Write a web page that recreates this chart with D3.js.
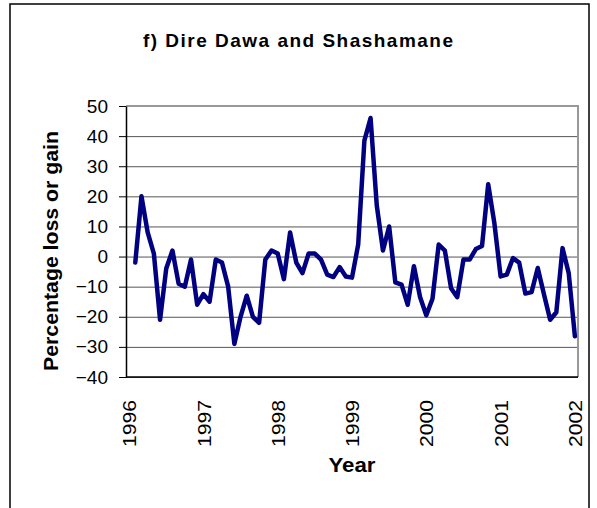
<!DOCTYPE html>
<html>
<head>
<meta charset="utf-8">
<script src="https://cdn.jsdelivr.net/npm/d3@7"></script>
<style>
body { margin: 0; background: #fff; }
text { font-family: Arial, "Liberation Sans", sans-serif; }
</style>
</head>
<body>
<svg id="chart" width="597" height="508"></svg>
<script>
// year labels sit on every 12th month, first month has no value
var yearLabels = ['1996', '1997', '1998', '1999', '2000', '2001', '2002'];
var yTicks = [-40, -30, -20, -10, 0, 10, 20, 30, 40, 50];
var change = [null,
    -2, 20, 8, 1, -21, -4, 2, -9, -10, -1, -16, -12.5,
    -15, -1, -2, -10, -29, -20, -13, -20, -22, -1, 2, 1,
    -7.5, 8, -2, -5.5, 1, 1, -1, -6, -6.8, -3.5, -6.6, -7,
    4, 38.5, 46, 17, 2, 10, -8.6, -9.3, -16, -3.2, -13.5, -19.5,
    -14, 4, 2, -10.5, -13.5, -1, -1, 2.5, 3.5, 24, 11, -6.6,
    -6, -0.5, -2, -12.3, -11.8, -3.8, -12.5, -21, -18.5, 2.8, -5.5, -26.5];

var svg = d3.select('#chart');
var pLeft = 126, pRight = 578, pTop = 106, pBottom = 377;
var fontFam = 'Arial, "Liberation Sans", sans-serif';

// outer frame
svg.append('rect')
    .attr('x', 10).attr('y', 4).attr('width', 579).attr('height', 520)
    .attr('fill', 'none').attr('stroke', '#000').attr('stroke-width', 1.5);

svg.append('text')
    .attr('x', 298).attr('y', 47)
    .attr('text-anchor', 'middle')
    .attr('font-size', 19).attr('font-weight', 'bold')
    .attr('textLength', 310).attr('lengthAdjust', 'spacing')
    .text('f) Dire Dawa and Shashamane');

var x = d3.scalePoint()
    .domain(d3.range(change.length))
    .range([pLeft, pRight])
    .padding(0.5);
var y = d3.scaleLinear().domain([-40, 50]).range([pBottom, pTop]);

// grid
svg.append('g')
    .attr('transform', 'translate(' + pLeft + ',0)')
    .call(d3.axisLeft(y).tickValues(yTicks).tickSize(-(pRight - pLeft)).tickFormat(''))
    .call(function(g) {
        g.select('.domain').remove();
        g.selectAll('line').attr('stroke', '#555').attr('stroke-width', 1);
    });

// plot area border (top / right)
svg.append('path')
    .attr('d', 'M' + pLeft + ',' + pTop + 'H' + pRight + 'V' + pBottom)
    .attr('fill', 'none').attr('stroke', '#999').attr('stroke-width', 2);

var line = d3.line()
    .defined(function(d) { return d != null; })
    .x(function(d, i) { return x(i); })
    .y(function(d) { return y(d); });

svg.append('path')
    .attr('d', line(change))
    .attr('fill', 'none')
    .attr('stroke', '#000080')
    .attr('stroke-width', 4.5)
    .attr('stroke-linejoin', 'round')
    .attr('stroke-linecap', 'round');

// y axis
svg.append('g')
    .attr('transform', 'translate(' + pLeft + ',0)')
    .call(d3.axisLeft(y).tickValues(yTicks).tickSize(7).tickSizeOuter(0).tickPadding(11))
    .call(function(g) {
        g.select('.domain').attr('stroke', '#000').attr('stroke-width', 1.5);
        g.selectAll('.tick line').attr('stroke', '#000');
        g.selectAll('text').attr('font-size', 19).attr('font-family', fontFam).attr('fill', '#000');
    });

// x axis
var xTickIdx = yearLabels.map(function(d, i) { return i * 12; });
svg.append('g')
    .attr('transform', 'translate(0,' + pBottom + ')')
    .call(d3.axisBottom(x).tickValues(xTickIdx).tickSize(0).tickSizeOuter(0)
        .tickFormat(function(d) { return yearLabels[d / 12]; }))
    .call(function(g) {
        g.select('.domain').attr('stroke', '#000').attr('stroke-width', 1.5)
            .attr('d', 'M' + pLeft + ',0H' + pRight);
        g.selectAll('text')
            .attr('font-size', 19).attr('font-family', fontFam).attr('fill', '#000')
            .attr('transform', 'rotate(-90)')
            .attr('text-anchor', 'end')
            .attr('textLength', 47).attr('lengthAdjust', 'spacingAndGlyphs')
            .attr('x', -23).attr('y', 0).attr('dy', '0.35em');
    });

svg.append('text')
    .attr('x', (pLeft + pRight) / 2).attr('y', 472)
    .attr('text-anchor', 'middle')
    .attr('font-size', 20).attr('font-weight', 'bold')
    .attr('textLength', 47).attr('lengthAdjust', 'spacingAndGlyphs')
    .text('Year');

svg.append('text')
    .attr('transform', 'translate(58,' + 251 + ') rotate(-90)')
    .attr('text-anchor', 'middle')
    .attr('font-size', 20).attr('font-weight', 'bold')
    .attr('textLength', 240).attr('lengthAdjust', 'spacingAndGlyphs')
    .text('Percentage loss or gain');
</script>
</body>
</html>
